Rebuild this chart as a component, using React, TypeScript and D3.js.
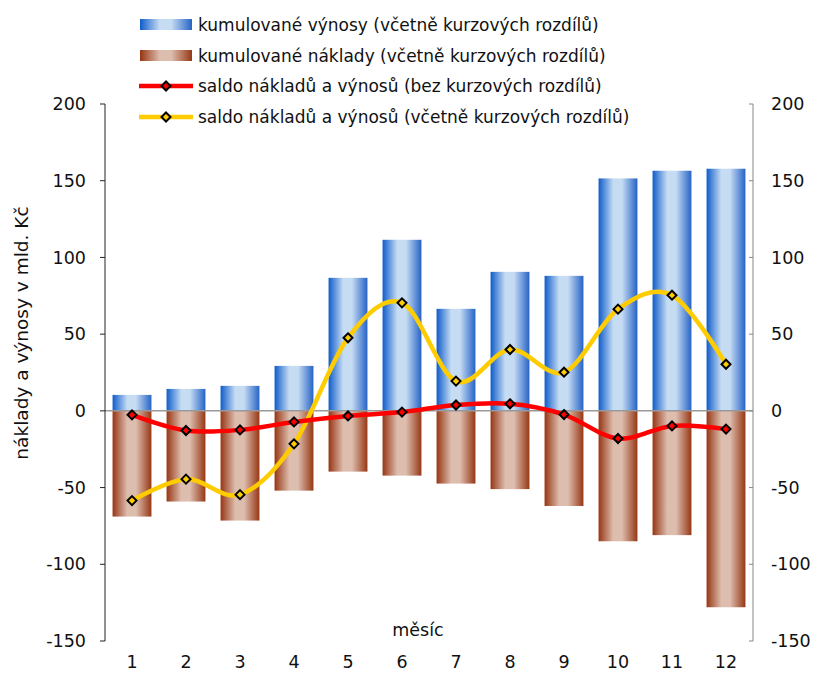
import React from "react";
import * as d3 from "d3";

const months = ["1", "2", "3", "4", "5", "6", "7", "8", "9", "10", "11", "12"];
const revenues = [10.4, 14.3, 16.3, 29.3, 86.7, 111.5, 66.5, 90.6, 88, 151.5, 156.5, 157.8];
const costs = [-68.9, -59.1, -71.5, -52, -39.6, -42.2, -47.4, -51, -62, -85, -81, -128];
const saldoBez = [-2.6, -12.8, -12.4, -7.2, -3.3, -0.8, 3.8, 4.6, -2.4, -18, -9.8, -11.9];
const saldoVc = [-58.5, -44.5, -54.6, -21.5, 47.6, 70.4, 19.4, 40, 25.2, 66.3, 75.4, 30.4];
const yTicks = [-150, -100, -50, 0, 50, 100, 150, 200];
const legendLabels = [
  "kumulované výnosy (včetně kurzových rozdílů)",
  "kumulované náklady (včetně kurzových rozdílů)",
  "saldo nákladů a výnosů (bez kurzových rozdílů)",
  "saldo nákladů a výnosů (včetně kurzových rozdílů)",
];
const yTitle = "náklady a výnosy v mld. Kč";
const xTitle = "měsíc";

const W = 815;
const H = 673;
const left = 105;
const right = 753;
const top = 104;
const bottom = 641;
const FONT = "Verdana, DejaVu Sans, sans-serif";

export default function App() {
  const x = d3.scaleBand<string>().domain(months).range([left, right]).paddingInner(0.28).paddingOuter(0.14);
  const y = d3.scaleLinear().domain([-150, 200]).range([bottom, top]);
  const cx = (i: number) => (x(months[i]) as number) + x.bandwidth() / 2;
  const line = d3
    .line<number>()
    .x((_, i) => cx(i))
    .y((d) => y(d))
    .curve(d3.curveCatmullRom.alpha(0));

  const diamond = (px: number, py: number, fill: string, key: string) => (
    <path
      key={key}
      d={`M${px},${py - 4.5}L${px + 4.5},${py}L${px},${py + 4.5}L${px - 4.5},${py}Z`}
      fill={fill}
      stroke="#000"
      strokeWidth={2}
    />
  );

  const legendY = [25, 56, 86, 117];

  return (
    <svg width={W} height={H} style={{ position: "absolute", left: 0, top: 0 }} fontFamily={FONT}>
      <defs>
        <linearGradient id="gBlue" x1="0" x2="1" y1="0" y2="0">
          <stop offset="0" stopColor="#0F5CCB" />
          <stop offset="0.38" stopColor="#C6DCF3" />
          <stop offset="0.6" stopColor="#C6DCF3" />
          <stop offset="1" stopColor="#2663C6" />
        </linearGradient>
        <linearGradient id="gBrown" x1="0" x2="1" y1="0" y2="0">
          <stop offset="0" stopColor="#963512" />
          <stop offset="0.38" stopColor="#DDBDAE" />
          <stop offset="0.6" stopColor="#DDBDAE" />
          <stop offset="1" stopColor="#963816" />
        </linearGradient>
      </defs>
      <rect width={W} height={H} fill="#fff" />

      {/* bars */}
      {revenues.map((v, i) => (
        <rect key={"r" + i} x={x(months[i])} y={y(v)} width={x.bandwidth()} height={y(0) - y(v)} fill="url(#gBlue)" />
      ))}
      {costs.map((v, i) => (
        <rect key={"c" + i} x={x(months[i])} y={y(0)} width={x.bandwidth()} height={y(v) - y(0)} fill="url(#gBrown)" />
      ))}

      {/* zero line */}
      <line x1={left} x2={right} y1={y(0)} y2={y(0)} stroke="#999" strokeWidth={1.5} />

      {/* left axis */}
      <line x1={left} x2={left} y1={top} y2={bottom} stroke="#222" strokeWidth={1} />
      {yTicks.map((t) => (
        <g key={"l" + t}>
          <line x1={left - 5} x2={left} y1={y(t)} y2={y(t)} stroke="#222" />
          <text x={86} y={y(t)} dy="0.35em" textAnchor="end" fontSize={17.5} fill="#111">
            {t}
          </text>
        </g>
      ))}
      {/* right axis */}
      <line x1={right} x2={right} y1={top} y2={bottom} stroke="#888" strokeWidth={1} />
      {yTicks.map((t) => (
        <g key={"r" + t}>
          <line x1={right - 4} x2={right} y1={y(t)} y2={y(t)} stroke="#888" />
          <text x={771} y={y(t)} dy="0.35em" textAnchor="start" fontSize={17.5} fill="#111">
            {t}
          </text>
        </g>
      ))}

      {/* category labels */}
      {months.map((m, i) => (
        <text key={"m" + m} x={cx(i)} y={668} textAnchor="middle" fontSize={17.5} fill="#111">
          {m}
        </text>
      ))}
      <text x={418} y={636} textAnchor="middle" fontSize={17.5} fill="#111">
        {xTitle}
      </text>
      <text
        transform={`translate(22,${333}) rotate(-90)`}
        dy="0.35em"
        textAnchor="middle"
        fontSize={18.5}
        fill="#111"
      >
        {yTitle}
      </text>

      {/* lines */}
      <path d={line(saldoVc) || ""} fill="none" stroke="#FFCC00" strokeWidth={4.5} />
      <path d={line(saldoBez) || ""} fill="none" stroke="#FF0000" strokeWidth={4.5} />
      {saldoVc.map((v, i) => diamond(cx(i), y(v), "#FFCC00", "dv" + i))}
      {saldoBez.map((v, i) => diamond(cx(i), y(v), "#FF0000", "db" + i))}

      {/* legend */}
      <rect x={140} y={legendY[0] - 6} width={52} height={11} fill="url(#gBlue)" />
      <rect x={140} y={legendY[1] - 6} width={52} height={11} fill="url(#gBrown)" />
      <line x1={139} x2={193} y1={legendY[2]} y2={legendY[2]} stroke="#FF0000" strokeWidth={4.5} />
      {diamond(166, legendY[2], "#FF0000", "lg3")}
      <line x1={139} x2={193} y1={legendY[3]} y2={legendY[3]} stroke="#FFCC00" strokeWidth={4.5} />
      {diamond(166, legendY[3], "#FFCC00", "lg4")}
      {legendLabels.map((l, i) => (
        <text key={"lg" + i} x={198} y={legendY[i]} dy="0.35em" fontSize={17} fill="#111">
          {l}
        </text>
      ))}
    </svg>
  );
}
